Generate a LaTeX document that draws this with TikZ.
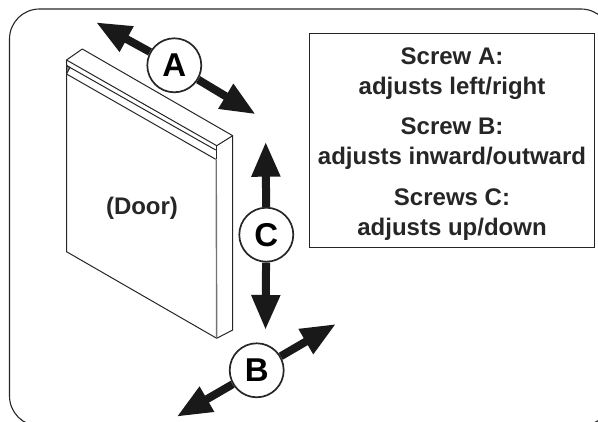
\documentclass[tikz,border=0pt]{standalone}
\usepackage{fontspec}
\setmainfont{Liberation Sans}
\usetikzlibrary{arrows.meta}

\begin{document}
\begin{tikzpicture}[x=1pt, y=-1pt,
  edge/.style = {draw=black!85, line width=1pt, line join=round},
  badge/.style = {draw=black!85, circle, fill=white, line width=1.7pt, minimum size=54pt, inner sep=0pt, font=\fontsize{33}{33}\selectfont\bfseries},
  tip/.style = {draw=black!90, line width=8pt, -{Triangle[length=35pt,width=27pt]}},
  key/.style = {align=center, text=black!85, font=\fontsize{24}{30}\selectfont\bfseries}]

\useasboundingbox (0, 0) rectangle (598, 422);

% frame, cut by the page edge
\begin{scope}
\clip (0, 0) rectangle (598, 422);
\draw[edge, line width=1.1pt, rounded corners=30pt] (9.5, 9) rectangle (611, 426);
\end{scope}

% door
\coordinate (D1) at (66.5, 60);
\coordinate (D2) at (82.3, 49);
\coordinate (D3) at (232.7, 135.7);
\coordinate (D4) at (216.7, 145.7);
\coordinate (D5) at (232.7, 330);
\coordinate (D6) at (216.7, 338.3);
\coordinate (D7) at (66.5, 251.7);
\coordinate (G1) at (66.5, 65.5);
\coordinate (G2) at (215.7, 150);
\coordinate (G3) at (66.5, 74);
\coordinate (G4) at (215.7, 159.3);
\coordinate (G5) at (70, 67.5);

\fill[black!45] (G1) -- (G5) -- (G3) -- cycle;
\draw[edge] (D1) -- (D2) -- (D3) -- (D4) -- cycle;
\draw[edge] (D1) -- (D7) -- (D6) -- (D5) -- (D3);
\draw[edge, line width=1.2pt] (D4) -- (D4 |- G4);
\draw[edge, black!55, line width=1.4pt] (216.2, 159.3) -- (D6);
\draw[edge] (G1) -- (G2);
\draw[edge] (G3) -- (G4);
\draw[edge] (G1) -- (G5) -- (G3);

\node[font=\fontsize{24}{24}\selectfont\bfseries, text=black!85] (door) at (142, 208) {(Door)};

% arrows
\coordinate (Aa) at (96, 22.3);
\coordinate (Ab) at (255.7, 114.3);
\coordinate (Ca) at (265.7, 141.7);
\coordinate (Cb) at (265.5, 330);
\coordinate (Ba) at (336, 324);
\coordinate (Bb) at (176.7, 416.7);

\node[badge] (A) at (174.3, 65.3) {A};
\node[badge] (C) at (266.3, 234.7) {C};
\node[badge] (B) at (256.7, 370.3) {B};

\draw[tip] (A) -- (Aa);
\draw[tip] (A) -- (Ab);
\draw[tip] (C) -- (Ca);
\draw[tip] (C) -- (Cb);
\draw[tip] (B) -- (Ba);
\draw[tip] (B) -- (Bb);

% legend
\node[draw=black!85, line width=1pt, minimum width=284.5pt, minimum height=214pt, inner sep=0pt] (legend) at (451.75, 141) {};
\node[key] (keyA) at (452, 74) {Screw A:\\adjusts left/right};
\node[key] (keyB) at (452, 144) {Screw B:\\adjusts inward/outward};
\node[key] (keyC) at (452, 214.5) {Screws C:\\adjusts up/down};
\end{tikzpicture}
\end{document}
